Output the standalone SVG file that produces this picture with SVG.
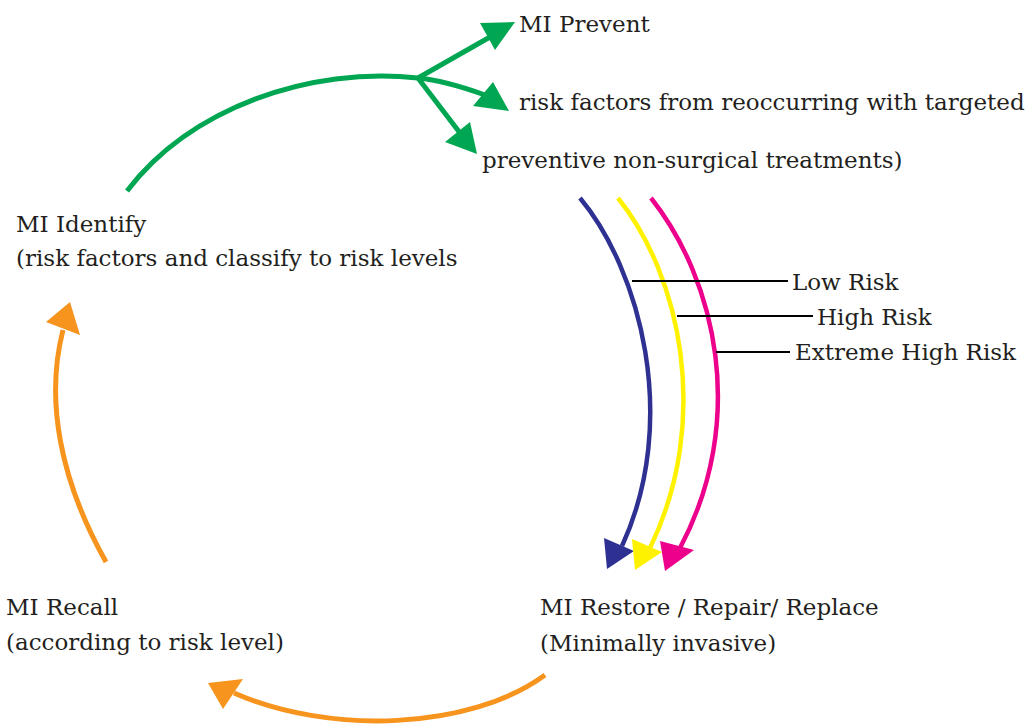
<svg xmlns="http://www.w3.org/2000/svg" width="1026" height="725" viewBox="0 0 1026 725">
  <style>
    .lbl { font-family: "DejaVu Serif", "Liberation Serif", serif; font-size: 23px; fill: #231f20; }
    .line { fill: none; stroke-linecap: butt; }
    .green { stroke: #00a651; stroke-width: 5; }
    .orange { stroke: #f7941d; stroke-width: 5; }
    .blue { stroke: #2e3192; stroke-width: 4.5; }
    .yellow { stroke: #fff200; stroke-width: 4.5; }
    .magenta { stroke: #ec008c; stroke-width: 4.5; }
    .leader { stroke: #000000; stroke-width: 2; }
    .fgreen { fill: #00a651; }
    .forange { fill: #f7941d; }
    .fblue { fill: #2e3192; }
    .fyellow { fill: #fff200; }
    .fmagenta { fill: #ec008c; }
  </style>
  <rect width="1026" height="725" fill="#ffffff"/>

  <!-- connectors -->
  <g id="connectors">
    <!-- Identify to Prevent (branching green arrow) -->
    <path class="line green" d="M127,191 C 190,108 310,66 418,78"/>
    <path class="line green" d="M418,78 L 490,37"/>
    <polygon class="fgreen" points="515,22 480,23 495,50"/>
    <path class="line green" d="M418,78 C 440,80 460,86 485,95"/>
    <polygon class="fgreen" points="509,111 473,106 493,82"/>
    <path class="line green" d="M418,78 L 460,133"/>
    <polygon class="fgreen" points="477,154 445,142 470,122"/>

    <!-- Prevent to Restore, one arc per risk level -->
    <path class="line blue" d="M580,198 C 640,270 680,420 622,546"/>
    <polygon class="fblue" points="607,569 604,538 634,551"/>
    <path class="line yellow" d="M618,198 C 680,275 712,420 650,548"/>
    <polygon class="fyellow" points="635,570 632,539 662,552"/>
    <path class="line magenta" d="M651,198 C 716,280 748,420 680,548"/>
    <polygon class="fmagenta" points="665,571 660,541 694,550"/>

    <!-- risk level leaders -->
    <line class="leader" x1="632" y1="281" x2="788" y2="281"/>
    <line class="leader" x1="677" y1="316" x2="813" y2="316"/>
    <line class="leader" x1="716" y1="352" x2="790" y2="352"/>

    <!-- Restore to Recall -->
    <path class="line orange" d="M545,675 C 470,730 330,735 234,693"/>
    <polygon class="forange" points="208,683 243,679 223,709"/>

    <!-- Recall to Identify -->
    <path class="line orange" d="M106,562 C 60,480 45,400 63,330"/>
    <polygon class="forange" points="70,302 46,322 80,335"/>
  </g>

  <g id="node-prevent">
    <text class="lbl" x="519" y="32">MI Prevent</text>
    <text class="lbl" x="519" y="110">risk factors from reoccurring with targeted</text>
    <text class="lbl" x="482" y="168">preventive non-surgical treatments)</text>
  </g>

  <g id="node-identify">
    <text class="lbl" x="16" y="232">MI Identify</text>
    <text class="lbl" x="16" y="266">(risk factors and classify to risk levels</text>
  </g>

  <g id="node-risk-levels">
    <text class="lbl" x="792" y="290">Low Risk</text>
    <text class="lbl" x="817" y="325">High Risk</text>
    <text class="lbl" x="795" y="360">Extreme High Risk</text>
  </g>

  <g id="node-restore">
    <text class="lbl" x="540" y="615">MI Restore / Repair/ Replace</text>
    <text class="lbl" x="540" y="651">(Minimally invasive)</text>
  </g>

  <g id="node-recall">
    <text class="lbl" x="6" y="615">MI Recall</text>
    <text class="lbl" x="6" y="650">(according to risk level)</text>
  </g>
</svg>
